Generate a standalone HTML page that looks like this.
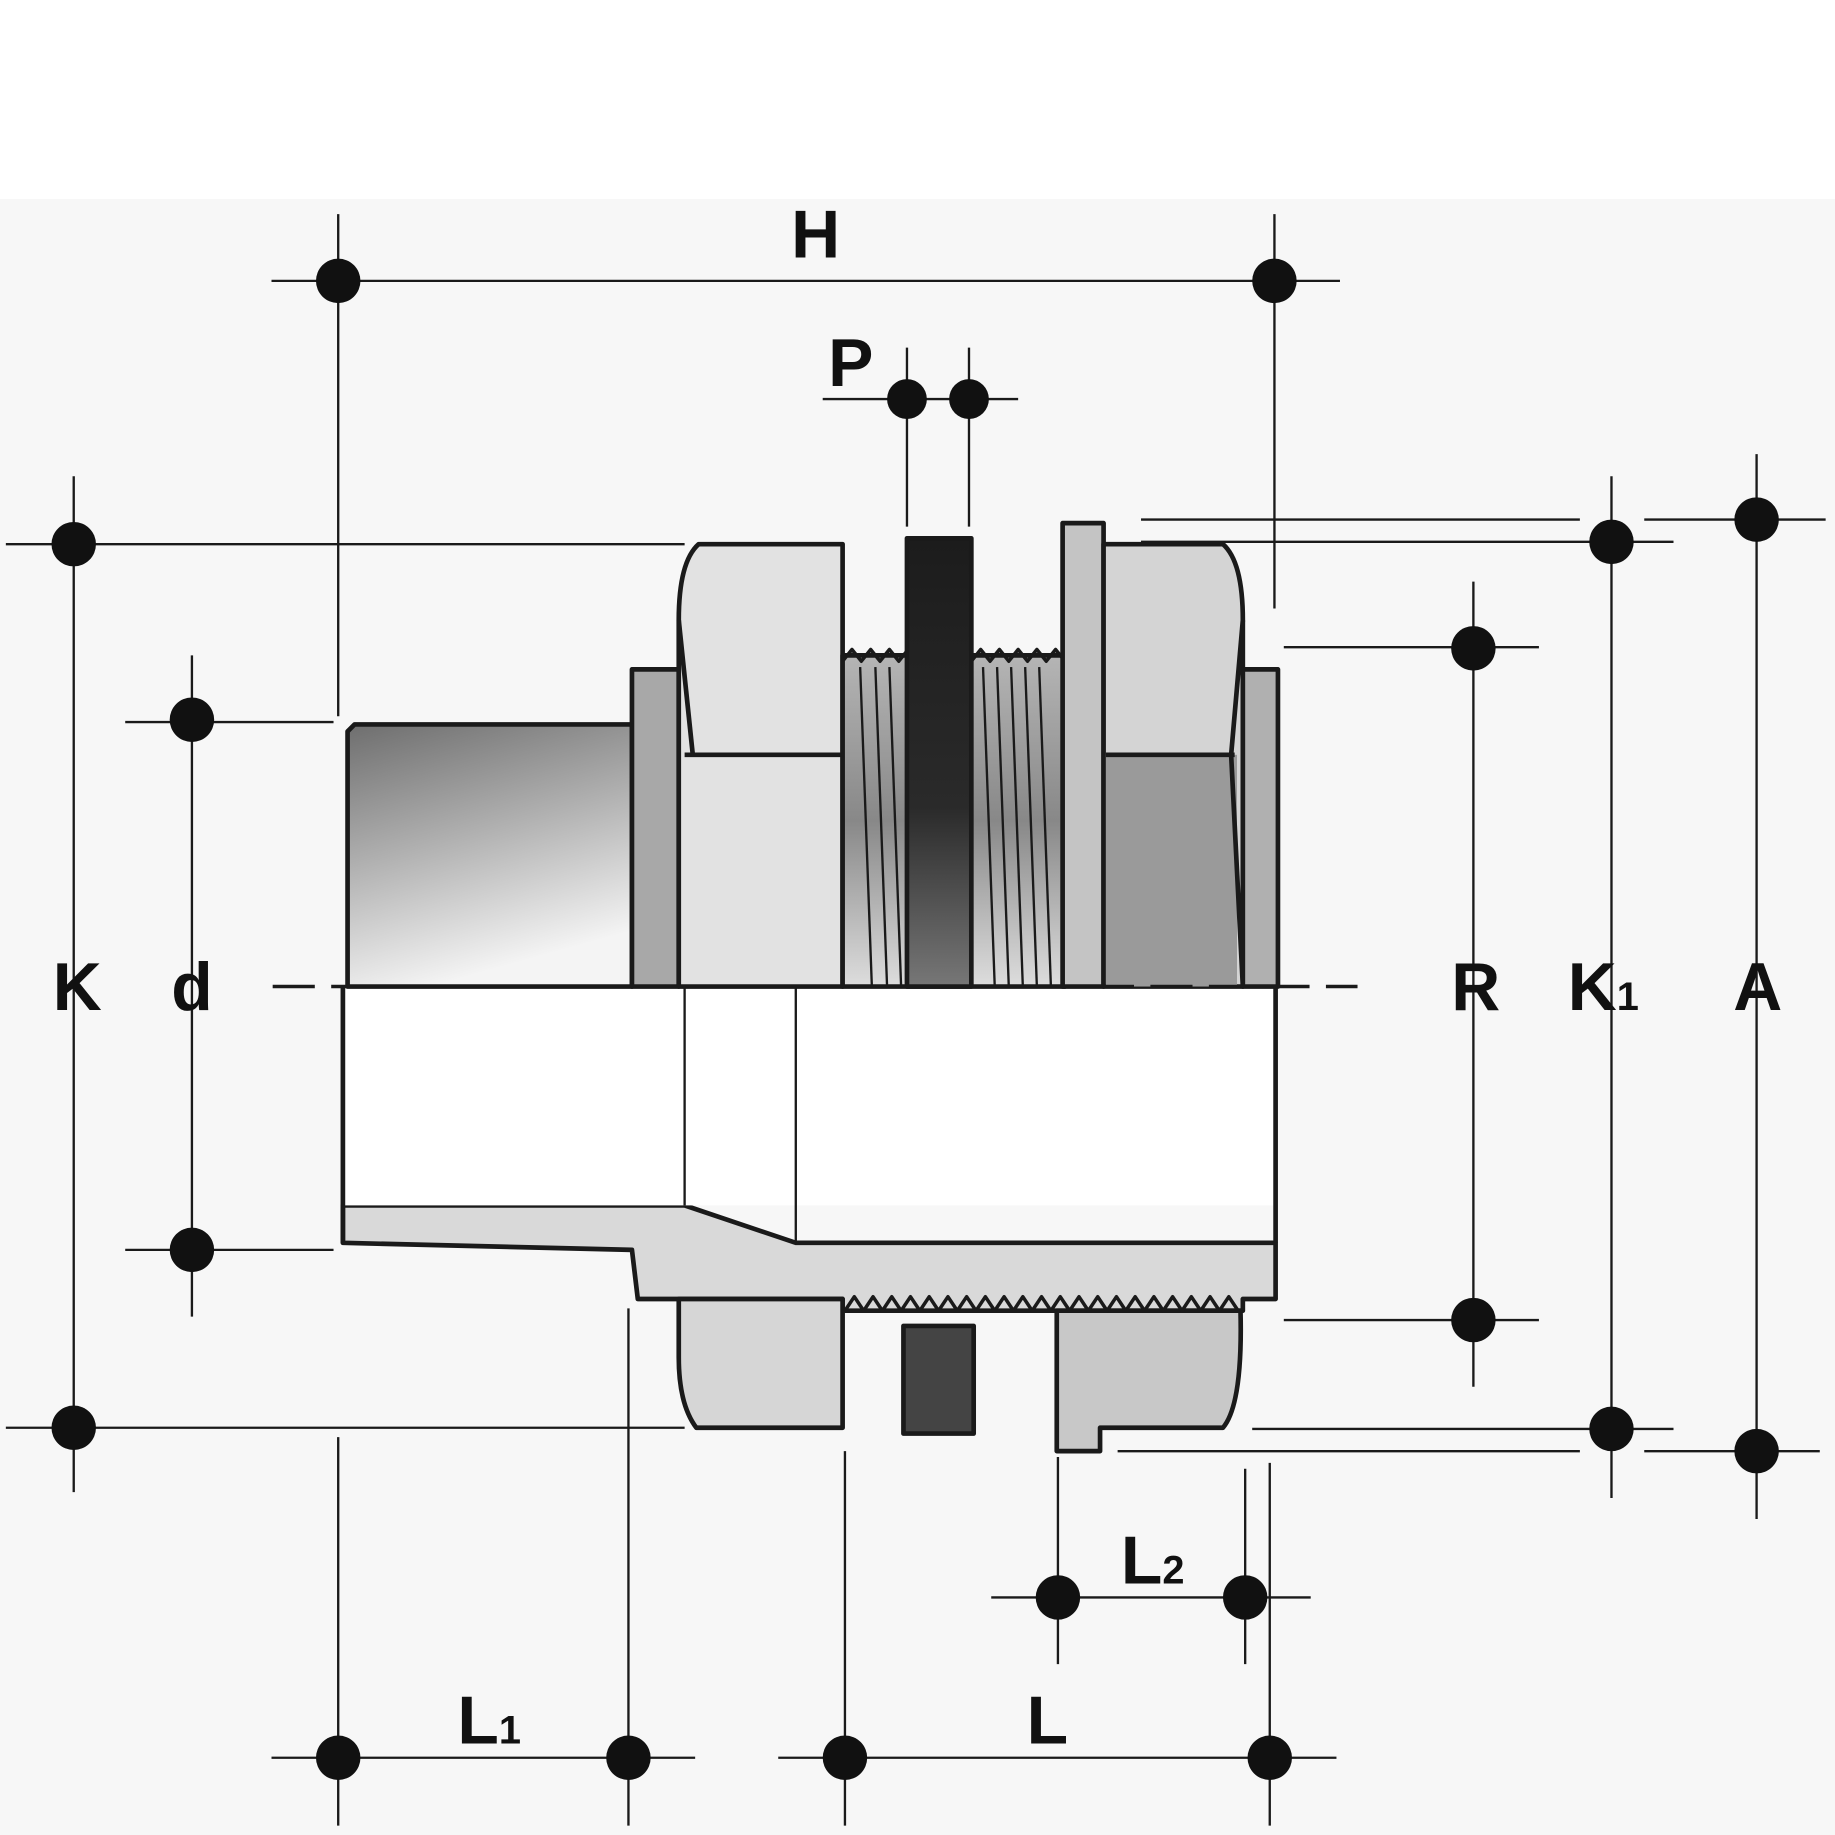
<!DOCTYPE html>
<html><head><meta charset="utf-8"><style>
html,body{margin:0;padding:0;background:#fff}
svg{display:block}
text{font-family:"Liberation Sans",sans-serif;font-weight:bold;fill:#111}
</style></head><body>
<svg width="1835" height="1835" viewBox="0 0 1568 1568" xmlns="http://www.w3.org/2000/svg">
<defs>
<linearGradient id="pipe" x1="0" y1="0" x2="0.3" y2="1">
<stop offset="0" stop-color="#6e6e6e"/><stop offset="0.5" stop-color="#b0b0b0"/><stop offset="1" stop-color="#f4f4f4"/></linearGradient>
<linearGradient id="gask" x1="0" y1="0" x2="0" y2="1">
<stop offset="0" stop-color="#1c1c1c"/><stop offset="0.6" stop-color="#2a2a2a"/><stop offset="1" stop-color="#777"/></linearGradient>
<linearGradient id="thr" x1="0" y1="0" x2="0" y2="1">
<stop offset="0" stop-color="#b5b5b5"/><stop offset="0.5" stop-color="#888"/><stop offset="1" stop-color="#ddd"/></linearGradient>
</defs>
<rect x="0" y="0" width="1568" height="1568" fill="#fff"/>
<rect x="0" y="170" width="1568" height="1398" fill="#f7f7f7"/>
<g stroke="#1a1a1a" stroke-width="4" stroke-linejoin="round">
<!-- lower body -->
<path d="M293 1030 L585 1030 L680 1062 L1090 1062 L1090 1110 L1062 1110 L1062 1120 L720 1120 L720 1110 L580 1110 L545 1110 L540 1068 L293 1062 Z" fill="#d9d9d9"/>
<rect x="293" y="843" width="797" height="187" fill="#fff" stroke="none"/>
<line x1="293" y1="843" x2="293" y2="1062"/><line x1="1090" y1="843" x2="1090" y2="1062"/>
<line x1="585" y1="843" x2="585" y2="1030" stroke-width="2"/><line x1="680" y1="843" x2="680" y2="1062" stroke-width="2"/>
<!-- lower nut left -->
<path d="M580 1110 L720 1110 L720 1220 L595 1220 Q580 1200 580 1160 Z" fill="#d6d6d6"/>
<!-- lower gasket -->
<rect x="772" y="1133" width="60" height="92" fill="#444"/>
<!-- lower washer/right nut -->
<path d="M903 1120 L1060 1120 Q1062 1200 1045 1220 L940 1220 L940 1240 L903 1240 Z" fill="#c8c8c8"/>
<!-- thread teeth lower -->
<path d="M722 1120 l8 -12 l8 12 l8 -12 l8 12 l8 -12 l8 12 l8 -12 l8 12 l8 -12 l8 12 l8 -12 l8 12 l8 -12 l8 12 l8 -12 l8 12 l8 -12 l8 12 l8 -12 l8 12 l8 -12 l8 12 l8 -12 l8 12 l8 -12 l8 12 l8 -12 l8 12 l8 -12 l8 12 l8 -12 l8 12 l8 -12 l8 12 l8 -12 l8 12 l8 -12 l8 12 l8 -12 l8 12 l8 -12 l8 12" fill="none" stroke-width="3"/>
<!-- upper pipe -->
<path d="M297 843 L297 625 L303 619 L540 619 L540 843 Z" fill="url(#pipe)"/>
<rect x="540" y="572" width="40" height="271" fill="#a8a8a8"/>
<!-- upper left nut -->
<path d="M580 843 L580 530 Q580 480 597 465 L720 465 L720 843 Z" fill="#e2e2e2"/>
<line x1="585" y1="645" x2="720" y2="645"/>
<path d="M580 530 L592 645" fill="none"/>
<!-- threads region -->
<rect x="720" y="560" width="190" height="283" fill="url(#thr)"/>
<g stroke-width="2">
<line x1="735" y1="570" x2="745" y2="843"/><line x1="748" y1="570" x2="758" y2="843"/><line x1="760" y1="570" x2="770" y2="843"/>
<line x1="840" y1="570" x2="850" y2="843"/><line x1="852" y1="570" x2="862" y2="843"/><line x1="864" y1="570" x2="874" y2="843"/><line x1="876" y1="570" x2="886" y2="843"/><line x1="888" y1="570" x2="898" y2="843"/>
</g>
<path d="M720 565 l8 -10 l8 10 l8 -10 l8 10 l8 -10 l8 10 l8 -10 l8 10 M830 565 l8 -10 l8 10 l8 -10 l8 10 l8 -10 l8 10 l8 -10 l8 10 l8 -10 l8 10" fill="none" stroke-width="3"/>
<!-- gasket -->
<rect x="775" y="460" width="55" height="383" fill="url(#gask)"/>
<!-- washer -->
<rect x="908" y="447" width="35" height="396" fill="#c4c4c4"/>
<!-- right nut -->
<path d="M943 843 L943 465 L1045 465 Q1062 480 1062 530 L1062 843 Z" fill="#d4d4d4"/>
<rect x="945" y="645" width="112" height="198" fill="#9a9a9a" stroke="none"/>
<line x1="945" y1="645" x2="1055" y2="645"/>
<path d="M1062 530 L1052 645 L1062 843" fill="none"/>
<rect x="1062" y="572" width="30" height="271" fill="#b0b0b0"/>
</g>
<!-- centre line -->
<line x1="233" y1="843" x2="1160" y2="843" stroke="#1a1a1a" stroke-width="3" stroke-dasharray="36,14"/>
<!-- dimension lines -->
<g stroke="#1a1a1a" stroke-width="2" fill="none">
<line x1="232" y1="240" x2="1145" y2="240"/><line x1="289" y1="183" x2="289" y2="612"/><line x1="1089" y1="183" x2="1089" y2="520"/>
<line x1="703" y1="341" x2="870" y2="341"/><line x1="775" y1="297" x2="775" y2="450"/><line x1="828" y1="297" x2="828" y2="450"/>
<line x1="63" y1="407" x2="63" y2="1275"/><line x1="5" y1="465" x2="585" y2="465"/><line x1="5" y1="1220" x2="585" y2="1220"/>
<line x1="164" y1="560" x2="164" y2="1125"/><line x1="107" y1="617" x2="285" y2="617"/><line x1="107" y1="1068" x2="285" y2="1068"/>
<line x1="1259" y1="497" x2="1259" y2="1185"/><line x1="1097" y1="553" x2="1315" y2="553"/><line x1="1097" y1="1128" x2="1315" y2="1128"/>
<line x1="1377" y1="407" x2="1377" y2="1280"/><line x1="975" y1="463" x2="1430" y2="463"/><line x1="1070" y1="1221" x2="1430" y2="1221"/>
<line x1="1501" y1="388" x2="1501" y2="1298"/><line x1="975" y1="444" x2="1350" y2="444"/><line x1="1405" y1="444" x2="1560" y2="444"/><line x1="955" y1="1240" x2="1350" y2="1240"/><line x1="1405" y1="1240" x2="1555" y2="1240"/>
<line x1="232" y1="1502" x2="594" y2="1502"/><line x1="289" y1="1228" x2="289" y2="1560"/><line x1="537" y1="1118" x2="537" y2="1560"/>
<line x1="665" y1="1502" x2="1142" y2="1502"/><line x1="722" y1="1240" x2="722" y2="1560"/><line x1="1085" y1="1250" x2="1085" y2="1560"/>
<line x1="847" y1="1365" x2="1120" y2="1365"/><line x1="904" y1="1245" x2="904" y2="1422"/><line x1="1064" y1="1255" x2="1064" y2="1422"/>
</g>
<g fill="#111">
<circle cx="289" cy="240" r="19"/><circle cx="1089" cy="240" r="19"/>
<circle cx="775" cy="341" r="17"/><circle cx="828" cy="341" r="17"/>
<circle cx="63" cy="465" r="19"/><circle cx="63" cy="1220" r="19"/>
<circle cx="164" cy="615" r="19"/><circle cx="164" cy="1068" r="19"/>
<circle cx="1259" cy="554" r="19"/><circle cx="1259" cy="1128" r="19"/>
<circle cx="1377" cy="463" r="19"/><circle cx="1377" cy="1221" r="19"/>
<circle cx="1501" cy="444" r="19"/><circle cx="1501" cy="1240" r="19"/>
<circle cx="289" cy="1502" r="19"/><circle cx="537" cy="1502" r="19"/>
<circle cx="722" cy="1502" r="19"/><circle cx="1085" cy="1502" r="19"/>
<circle cx="904" cy="1365" r="19"/><circle cx="1064" cy="1365" r="19"/>
</g>
<g font-size="58" text-anchor="middle">
<text x="697" y="220">H</text>
<text x="727" y="330">P</text>
<text x="66" y="863">K</text>
<text x="164" y="863">d</text>
<text x="1261" y="863">R</text>
<text x="1370" y="863">K<tspan font-size="34" dy="0">1</tspan></text>
<text x="1502" y="863">A</text>
<text x="418" y="1490">L<tspan font-size="34">1</tspan></text>
<text x="895" y="1490">L</text>
<text x="985" y="1353">L<tspan font-size="34">2</tspan></text>
</g>
</svg>
</body></html>
